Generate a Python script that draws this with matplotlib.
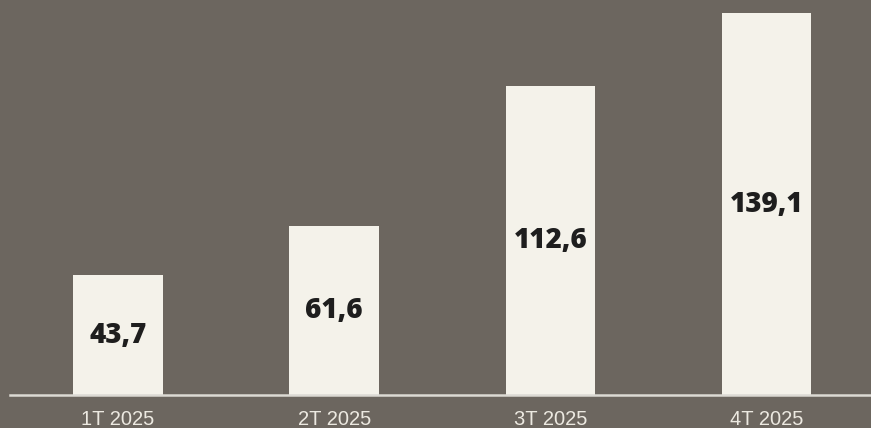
import matplotlib
matplotlib.use("Agg")
import matplotlib.pyplot as plt

# datos
trimestres = ["1T 2025", "2T 2025", "3T 2025", "4T 2025"]
valores = [43.7, 61.6, 112.6, 139.1]
etiquetas = ["43,7", "61,6", "112,6", "139,1"]

fondo = "#6c665f"
color_barra = "#f4f2ea"

fig = plt.figure(figsize=(8.71, 4.28), dpi=100)
fig.patch.set_facecolor(fondo)
ax = fig.add_axes([10 / 871, 33 / 428, 861 / 871, 395 / 428])
ax.set_facecolor(fondo)

x = range(len(trimestres))
barras = ax.bar(x, valores, width=0.415, color=color_barra, zorder=2)

# etiquetas en el centro de cada barra
for b, txt in zip(barras, etiquetas):
    ax.text(b.get_x() + b.get_width() / 2, b.get_height() / 2, txt,
            ha="center", va="center", fontsize=20, fontweight="heavy",
            family="Open Sans", color="#1e1e1e", zorder=3)

ax.set_xlim(-0.5, 3.483)
ax.set_ylim(0, 143.85)

for s in ["top", "right", "left"]:
    ax.spines[s].set_visible(False)
ax.spines["bottom"].set_color("#dcdad4")
ax.spines["bottom"].set_linewidth(1.8)
ax.spines["bottom"].set_zorder(4)

ax.set_yticks([])
ax.set_xticks(list(x))
ax.set_xticklabels(trimestres, fontsize=14.5, family="Liberation Sans", color="#ece9e1")
ax.tick_params(axis="x", length=0, pad=11)

fig.savefig("out.png", dpi=100, facecolor=fondo)
